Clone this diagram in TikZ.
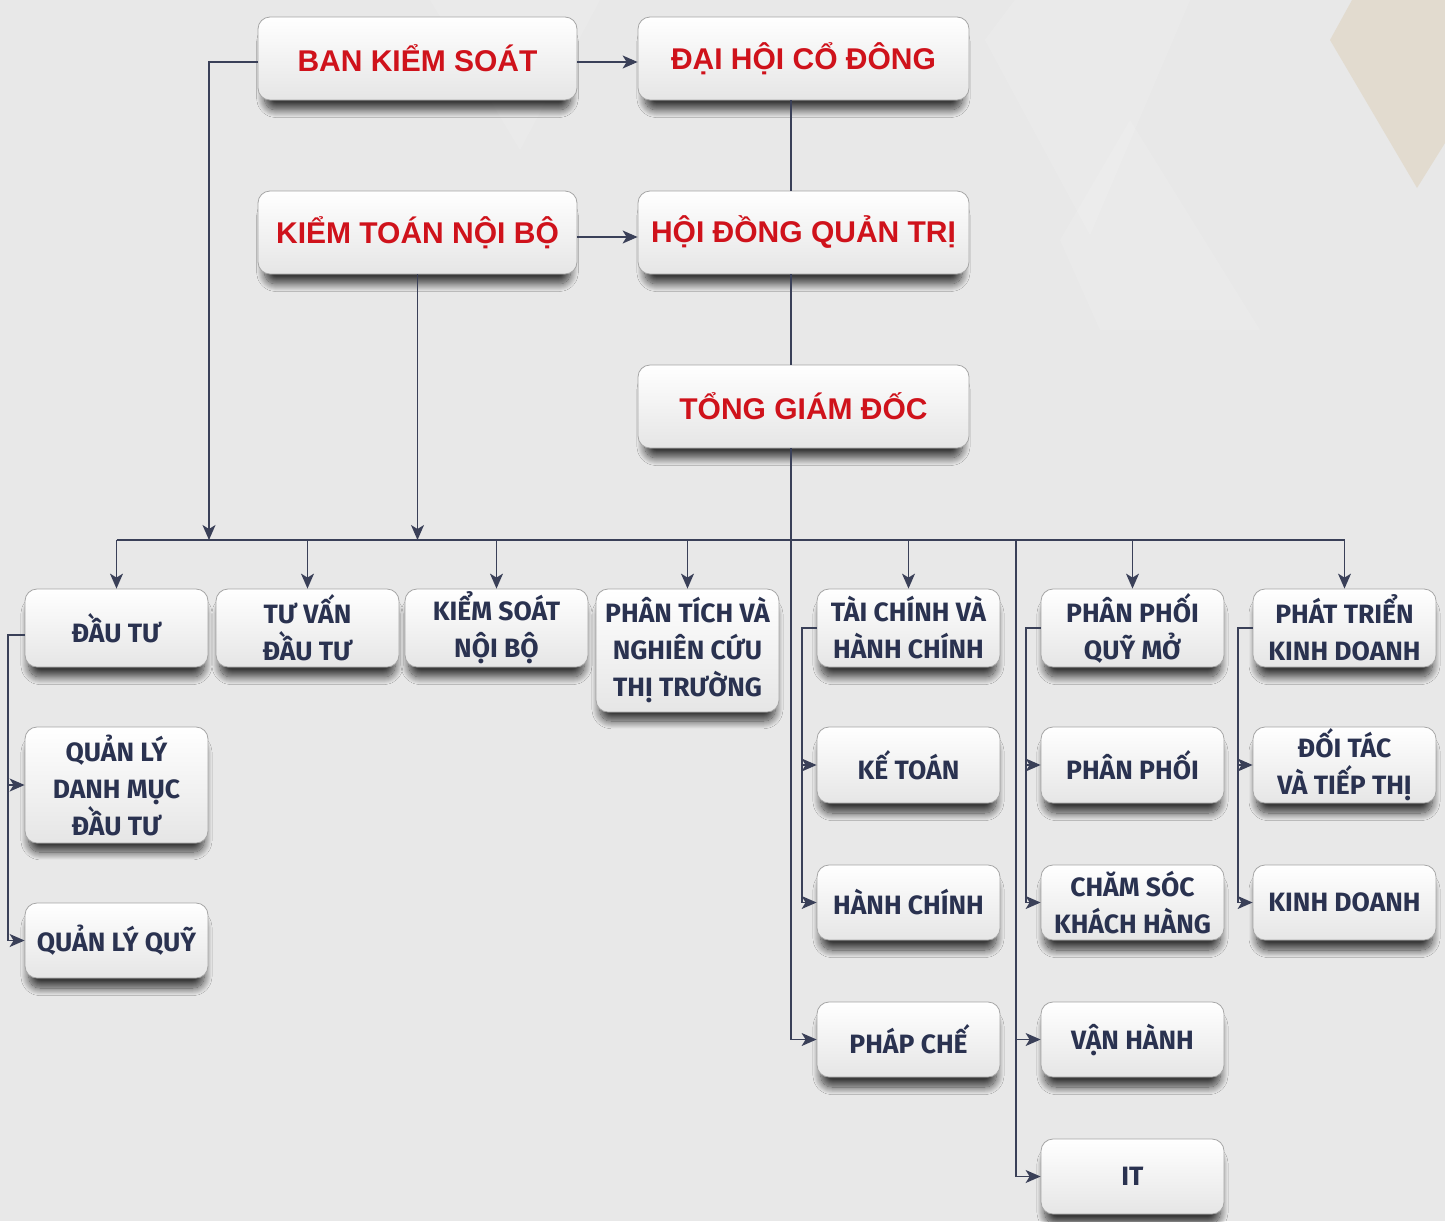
\documentclass[tikz,border=0pt]{standalone}
\usepackage{fontspec}
\usetikzlibrary{arrows.meta,shadows.blur,calc}
\newfontfamily\redfont{Liberation Sans}
\newfontfamily\darkfont{Fira Sans}
\definecolor{redt}{HTML}{CF121B}
\definecolor{darkt}{HTML}{2A3250}
\definecolor{linec}{HTML}{3A4058}
\definecolor{bgc}{HTML}{E8E8E8}
\definecolor{beige}{HTML}{E2DBCF}
\begin{document}
\begin{tikzpicture}[x=1pt,y=-1pt,
  basebox/.style={rounded corners=12pt, draw=black!35, line width=0.8pt,
    top color=white, bottom color=black!10, inner sep=0pt, align=center,
    blur shadow={shadow xshift=0pt, shadow yshift=-12pt, shadow opacity=75,
      shadow blur radius=8pt, shadow blur steps=16, shadow scale=0.96}},
  topbox/.style={basebox, minimum width=#1, minimum height=83pt,
    text=redt, font=\redfont\bfseries\fontsize{30}{35}\selectfont},
  subbox/.style={basebox, minimum width=183pt, minimum height=#1,
    text=darkt, font=\darkfont\bfseries\fontsize{26.5}{37}\selectfont},
  conn/.style={draw=linec, line width=1.4pt},
  arr/.style={conn, -{Stealth[length=15pt,width=13pt,inset=4pt]}}
]
% background
\fill[bgc] (0,0) rectangle (1445,1221);
\useasboundingbox (0,0) rectangle (1445,1221);
\fill[white, opacity=0.12] (985,40) -- (1015,0) -- (1190,0) -- (1090,235) -- cycle;
\fill[white, opacity=0.1] (1060,240) -- (1130,120) -- (1260,330) -- (1100,330) -- cycle;
\fill[white, opacity=0.1] (430,0) -- (600,0) -- (520,150) -- cycle;
\fill[beige] (1330,40) -- (1352,0) -- (1445,0) -- (1445,143) -- (1417,188) -- cycle;

% top nodes
\node[topbox=319pt] (bks) at (417.5,58.5) {BAN KIỂM SOÁT};
\node[topbox=331pt] (dhcd) at (803.5,58.5) {ĐẠI HỘI CỔ ĐÔNG};
\node[topbox=319pt] (ktnb) at (417.5,232.5) {KIỂM TOÁN NỘI BỘ};
\node[topbox=331pt] (hdqt) at (803.5,232.5) {HỘI ĐỒNG QUẢN TRỊ};
\node[topbox=331pt] (tgd) at (803.5,406.5) {TỔNG GIÁM ĐỐC};

% department row
\node[subbox=78pt] (dautu) at (116.5,628) {ĐẦU TƯ};
\node[subbox=78pt] (tuvan) at (307.5,628) {TƯ VẤN\\ĐẦU TƯ};
\node[subbox=78pt] (ksnb) at (496.5,628) {KIỂM SOÁT\\NỘI BỘ};
\node[subbox=123pt] (ptnc) at (687.5,650.5) {PHÂN TÍCH VÀ\\NGHIÊN CỨU\\THỊ TRƯỜNG};
\node[subbox=78pt] (tchc) at (908.5,628) {TÀI CHÍNH VÀ\\HÀNH CHÍNH};
\node[subbox=78pt] (ppqm) at (1132.5,628) {PHÂN PHỐI\\QUỸ MỞ};
\node[subbox=78pt] (ptkd) at (1344.5,628) {PHÁT TRIỂN\\KINH DOANH};

% sub departments
\node[subbox=116pt] (qldm) at (116.5,785) {QUẢN LÝ\\DANH MỤC\\ĐẦU TƯ};
\node[subbox=75pt] (qlq) at (116.5,940.5) {QUẢN LÝ QUỸ};
\node[subbox=76pt] (ketoan) at (908.5,765) {KẾ TOÁN};
\node[subbox=75pt] (hanhchinh) at (908.5,902.5) {HÀNH CHÍNH};
\node[subbox=75pt] (phapche) at (908.5,1039.5) {PHÁP CHẾ};
\node[subbox=76pt] (phanphoi) at (1132.5,765) {PHÂN PHỐI};
\node[subbox=75pt] (csk) at (1132.5,902.5) {CHĂM SÓC\\KHÁCH HÀNG};
\node[subbox=75pt] (vanhanh) at (1132.5,1039.5) {VẬN HÀNH};
\node[subbox=75pt] (it) at (1132.5,1176.5) {IT};
\node[subbox=76pt] (doitac) at (1344.5,765) {ĐỐI TÁC\\VÀ TIẾP THỊ};
\node[subbox=75pt] (kinhdoanh) at (1344.5,902.5) {KINH DOANH};

% helper coordinates
\coordinate (bus) at (0,540);
\coordinate (spine) at (791,540);
\coordinate (spineb) at (1016,540);
\coordinate (bksx) at (209,540);
\coordinate (lx1) at (8,0);
\coordinate (lx2) at (802,0);
\coordinate (lx3) at (1026,0);
\coordinate (lx4) at (1238,0);

% top connectors
\draw[arr] ([yshift=-3.5pt]bks.east) -- ([yshift=-3.5pt]dhcd.west);
\draw[arr] ([yshift=-4.5pt]ktnb.east) -- ([yshift=-4.5pt]hdqt.west);
\draw[conn] (spine |- dhcd.south) -- (spine |- hdqt.north);
\draw[conn] (spine |- hdqt.south) -- (spine |- tgd.north);
\draw[arr] (spine |- tgd.south) |- (phapche.west);
\draw[arr] ([yshift=-3.5pt]bks.west) -| (bksx);
\draw[arr] (ktnb.south) -- (ktnb.south |- bus);

% bus
\draw[conn] (dautu.north |- bus) -- (ptkd.north |- bus);
\foreach \n in {dautu,tuvan,ksnb,ptnc,tchc,ppqm,ptkd}
  \draw[arr] (\n.north |- bus) -- (\n.north);

% second bus line
\draw[arr] (spineb) |- (it.west);
\draw[arr] (spineb |- vanhanh.west) -- (vanhanh.west);

% left branches
\draw[arr] ([yshift=-7pt]dautu.west) -| (lx1 |- qlq.west) -- (qlq.west);
\draw[arr] (lx1 |- qldm.west) -- (qldm.west);

\draw[arr] (tchc.west) -| (lx2 |- hanhchinh.west) -- (hanhchinh.west);
\draw[arr] (lx2 |- ketoan.west) -- (ketoan.west);

\draw[arr] (ppqm.west) -| (lx3 |- csk.west) -- (csk.west);
\draw[arr] (lx3 |- phanphoi.west) -- (phanphoi.west);

\draw[arr] (ptkd.west) -| (lx4 |- kinhdoanh.west) -- (kinhdoanh.west);
\draw[arr] (lx4 |- doitac.west) -- (doitac.west);
\end{tikzpicture}
\end{document}
